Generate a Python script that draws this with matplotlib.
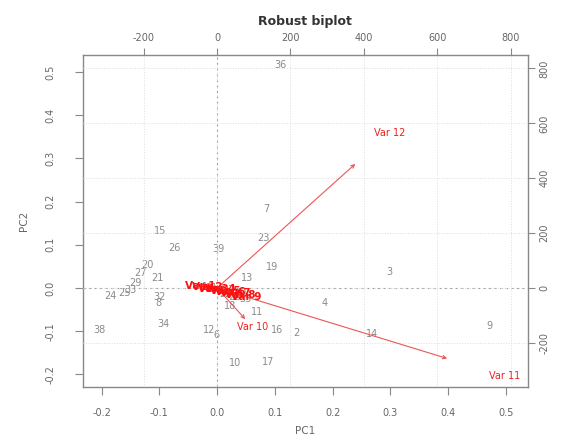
import matplotlib
matplotlib.use('Agg')
import matplotlib.pyplot as plt
import numpy as np

plt.rcParams['axes.unicode_minus'] = False

#-- dati: punteggi delle osservazioni (PC1, PC2)
obs_labels = ["36", "7", "23", "15", "26", "39", "19", "20", "27", "21",
              "29", "33", "25", "24", "32", "8", "34", "38", "12", "6",
              "13", "18", "11", "16", "2", "4", "3", "14", "9", "10",
              "17", "1", "5", "22", "28", "30", "31", "35", "37"]
obs_pc1 = [0.109, 0.086, 0.080, -0.099, -0.073, 0.002, 0.095, -0.121, -0.133, -0.104,
           -0.142, -0.150, -0.160, -0.185, -0.099, -0.102, -0.092, -0.204, -0.014, -0.001,
           0.052, 0.022, 0.069, 0.104, 0.138, 0.187, 0.298, 0.268, 0.472, 0.031,
           0.088, -0.020, 0.005, 0.015, 0.030, 0.040, -0.010, 0.050, 0.020]
obs_pc2 = [0.516, 0.183, 0.116, 0.132, 0.093, 0.090, 0.049, 0.053, 0.035, 0.023,
           0.012, -0.005, -0.012, -0.019, -0.021, -0.035, -0.083, -0.097, -0.097, -0.108,
           0.023, -0.042, -0.056, -0.097, -0.104, -0.035, 0.037, -0.106, -0.088, -0.174,
           -0.171, 0.002, -0.008, -0.015, -0.020, -0.012, 0.000, -0.025, -0.005]

#-- dati: loadings delle variabili (scala assi superiore / destro)
var_labels = ["Var 1", "Var 2", "Var 3", "Var 4", "Var 5", "Var 6",
              "Var 7", "Var 8", "Var 9", "Var 10", "Var 11", "Var 12"]
var_x = [-45, -28, -10, 8, 22, 36, 50, 64, 80, 96, 784, 471]
var_y = [6, 2, -4, -2, -10, -14, -20, -26, -34, -142, -321, 565]

top_ticks = [-200, 0, 200, 400, 600, 800]
right_ticks = [-200, 0, 200, 400, 600, 800]
bottom_ticks = [-0.2, -0.1, 0.0, 0.1, 0.2, 0.3, 0.4, 0.5]
left_ticks = [-0.2, -0.1, 0.0, 0.1, 0.2, 0.3, 0.4, 0.5]
#--

k = 1575.0
xlim = (-0.232, 0.538)
ylim = (-0.229, 0.539)
grey = '#888888'

fig = plt.figure(figsize=(5.61, 4.4), dpi=100)
ax = fig.add_axes([0.148, 0.1205, 0.793, 0.7545])
ax2 = fig.add_axes([0.148, 0.1205, 0.793, 0.7545], frameon=False)
ax2.patch.set_alpha(0)

#-- assi principali (osservazioni)
ax.set_xlim(xlim)
ax.set_ylim(ylim)
ax.set_xticks(bottom_ticks)
ax.set_xticklabels(["%.1f" % t for t in bottom_ticks])
ax.set_yticks(left_ticks)
ax.set_yticklabels(["%.1f" % t for t in left_ticks], rotation=90, va='center')
ax.tick_params(colors=grey, labelcolor='#666666', labelsize=7, length=6, direction='out')
ax.tick_params(axis='x', pad=9)
ax.tick_params(axis='y', pad=14)
for s in ax.spines.values():
    s.set_color(grey)
    s.set_linewidth(1.0)
ax.set_xlabel("PC1", size=7.5, color='#666666', labelpad=6)
ax.set_ylabel("PC2", size=7.5, color='#666666', labelpad=12)

for lab, x, y in zip(obs_labels, obs_pc1, obs_pc2):
    ax.text(x, y, lab, color='#8a8a8a', fontsize=7, ha='center', va='center', zorder=2)
#--

#-- assi secondari (variabili)
ax2.set_xlim(xlim[0]*k, xlim[1]*k)
ax2.set_ylim(ylim[0]*k, ylim[1]*k)
ax2.xaxis.tick_top()
ax2.yaxis.tick_right()
ax2.set_xticks(top_ticks)
ax2.set_yticks(right_ticks)
ax2.set_yticklabels([str(t) for t in right_ticks], rotation=90, va='center')
ax2.tick_params(colors=grey, labelcolor='#666666', labelsize=7, length=5, direction='out')
ax2.grid(color='#dddddd', linestyle=':', linewidth=0.7, zorder=0)
ax2.axhline(0, color='#999999', linestyle=(0, (2, 3)), linewidth=0.8, zorder=1)
ax2.axvline(0, color='#999999', linestyle=(0, (2, 3)), linewidth=0.8, zorder=1)

for i, (lab, x, y) in enumerate(zip(var_labels, var_x, var_y)):
    ax2.annotate("", xy=(x*0.8, y*0.8), xytext=(0, 0),
                 arrowprops=dict(arrowstyle='->', color='#ee5555', lw=0.8,
                                 shrinkA=0, shrinkB=0, mutation_scale=6), zorder=3)
    if i < 9:
        # variabili addensate vicino all'origine
        ax2.text(x, y, lab, color='#ff1010', fontsize=7.5, fontweight='bold',
                 ha='center', va='center', zorder=4)
    else:
        ax2.text(x, y, lab, color='#ee2222', fontsize=7, ha='center', va='center', zorder=4)
#--

fig.text(0.544, 0.95, "Robust biplot", size=9, fontweight="bold", color='#333333',
         ha='center', va='center')

fig.savefig("out.png", dpi=100)
plt.close("all")
